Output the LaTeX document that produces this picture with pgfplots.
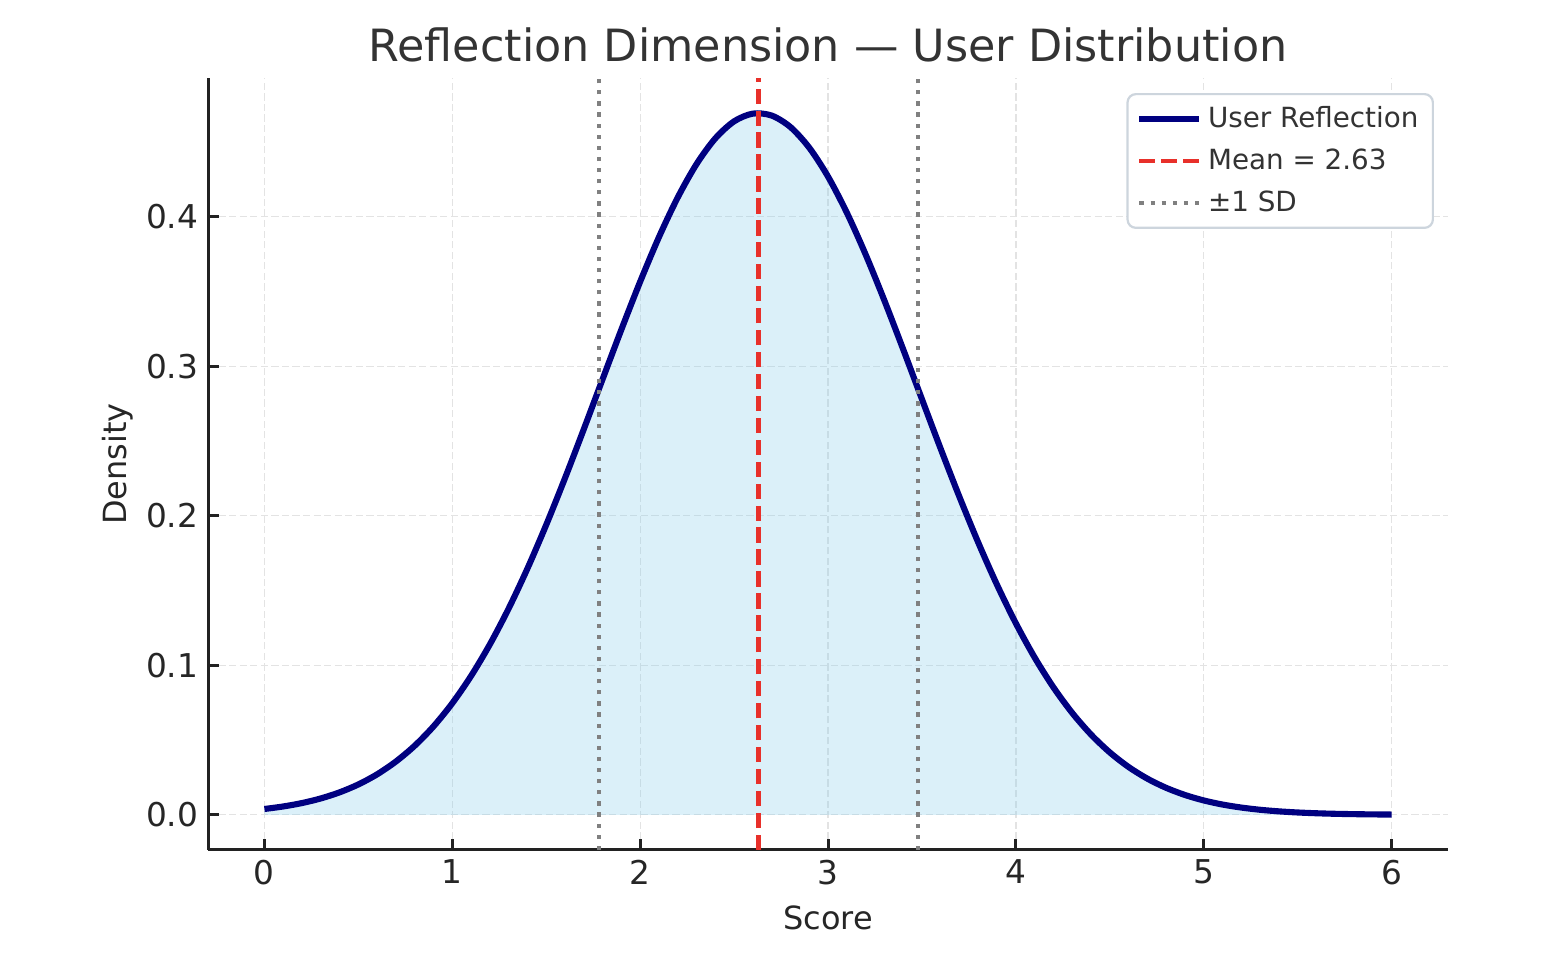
\documentclass[border=0pt]{standalone}
\usepackage{fontspec}
\setmainfont{DejaVu Sans}
\usepackage{pgfplots}
\usepackage{pgfplotstable}
\pgfplotsset{compat=1.18}
\usepgfplotslibrary{fillbetween}
\definecolor{navyc}{HTML}{000080}
\definecolor{meanred}{HTML}{E8302A}
\definecolor{sdgray}{HTML}{808080}
\definecolor{skyb}{RGB}{135,206,235}
\definecolor{spine}{HTML}{222222}
\definecolor{txt}{HTML}{262626}
\definecolor{ttl}{HTML}{333333}
\definecolor{gridc}{HTML}{E3E3E3}
\definecolor{legb}{HTML}{CDD5DD}

\pgfplotstableread{
x y
0.0 0.00391
0.1 0.00559
0.2 0.00788
0.3 0.01096
0.4 0.01503
0.5 0.02032
0.6 0.02710
0.7 0.03566
0.8 0.04623
0.9 0.05914
1.0 0.07463
1.1 0.09288
1.2 0.11399
1.3 0.13797
1.4 0.16472
1.5 0.19395
1.6 0.22522
1.7 0.25793
1.8 0.29135
1.9 0.32456
2.0 0.35658
2.1 0.38639
2.2 0.41293
2.3 0.43523
2.4 0.45243
2.5 0.46384
2.6 0.46901
2.7 0.46771
2.8 0.46001
2.9 0.44621
3.0 0.42688
3.1 0.40277
3.2 0.37481
3.3 0.34398
3.4 0.31136
3.5 0.27795
3.6 0.24472
3.7 0.21250
3.8 0.18198
3.9 0.15371
4.0 0.12805
4.1 0.10518
4.2 0.08524
4.3 0.06812
4.4 0.05368
4.5 0.04173
4.6 0.03199
4.7 0.02418
4.8 0.01804
4.9 0.01327
5.0 0.00962
5.1 0.00688
5.2 0.00486
5.3 0.00338
5.4 0.00232
5.5 0.00157
5.6 0.00105
5.7 0.00069
5.8 0.00045
5.9 0.00029
6.0 0.00018
}\curvedata

\begin{document}
\begin{tikzpicture}
\begin{axis}[
  width=446.4pt, height=277.9pt, scale only axis,
  xmin=-0.3, xmax=6.3, ymin=-0.0235, ymax=0.4928,
  axis x line*=bottom, axis y line*=left,
  axis line style={spine, line width=1.1pt, -},
  xtick={0,1,2,3,4,5,6},
  ytick={0,0.1,0.2,0.3,0.4},
  /pgf/number format/assume math mode=true,
  y tick label style={/pgf/number format/.cd, fixed, fixed zerofill, precision=1, /tikz/.cd},
  tick align=inside, major tick length=3.8pt,
  tick style={spine, line width=1.1pt},
  grid=major,
  major grid style={gridc, line width=0.45pt, dash pattern=on 2.6pt off 1.2pt},
  tick label style={color=txt, font=\fontsize{11.8}{13}\selectfont},
  label style={color=txt, font=\fontsize{11.5}{13}\selectfont},
  xlabel={Score}, ylabel={Density},
  xlabel style={at={(axis description cs:0.5,-0.0882)}, anchor=center},
  ylabel style={at={(axis description cs:-0.0726,0.5)}, anchor=center},
  title={Reflection Dimension — User Distribution},
  title style={at={(axis description cs:0.5,1.0215)}, anchor=center, color=ttl, font=\fontsize{16}{19}\selectfont},
  legend cell align=left,
  legend image code/.code={\draw[#1] (0pt,0pt) -- (21.6pt,0pt);},
  legend style={at={(axis description cs:0.9887,0.9806)}, anchor=north east,
    draw=legb, line width=0.8pt, rounded corners=3pt, fill=white,
    font=\fontsize{10}{12}\selectfont, text=ttl, row sep=2.2pt,
    inner xsep=3.2pt, inner ysep=2.4pt},
]
\addplot[navyc, line width=2.2pt, smooth, name path=curve] table {\curvedata};
\addlegendentry{User Reflection}
\addplot[draw=none, name path=base, forget plot] coordinates {(0,0) (6,0)};
\addplot[skyb, fill opacity=0.3, draw=none, forget plot] fill between[of=curve and base];
\addplot[meanred, line width=1.5pt, dash pattern=on 5.5pt off 2.4pt] coordinates {(2.63,-0.0235) (2.63,0.4928)};
\addlegendentry{Mean = 2.63}
\addplot[sdgray, line width=1.5pt, dash pattern=on 1.5pt off 2.5pt] coordinates {(1.78,-0.0235) (1.78,0.4928)};
\addlegendentry{±1 SD}
\addplot[sdgray, line width=1.5pt, dash pattern=on 1.5pt off 2.5pt, forget plot] coordinates {(3.48,-0.0235) (3.48,0.4928)};
\coordinate (SW) at (rel axis cs:0,0);
\coordinate (NE) at (rel axis cs:1,1);
\end{axis}
\pgfresetboundingbox
\path[use as bounding box] ([shift={(-74.9pt,-41.8pt)}]SW) rectangle ([shift={(43.2pt,28.1pt)}]NE);
\end{tikzpicture}
\end{document}
